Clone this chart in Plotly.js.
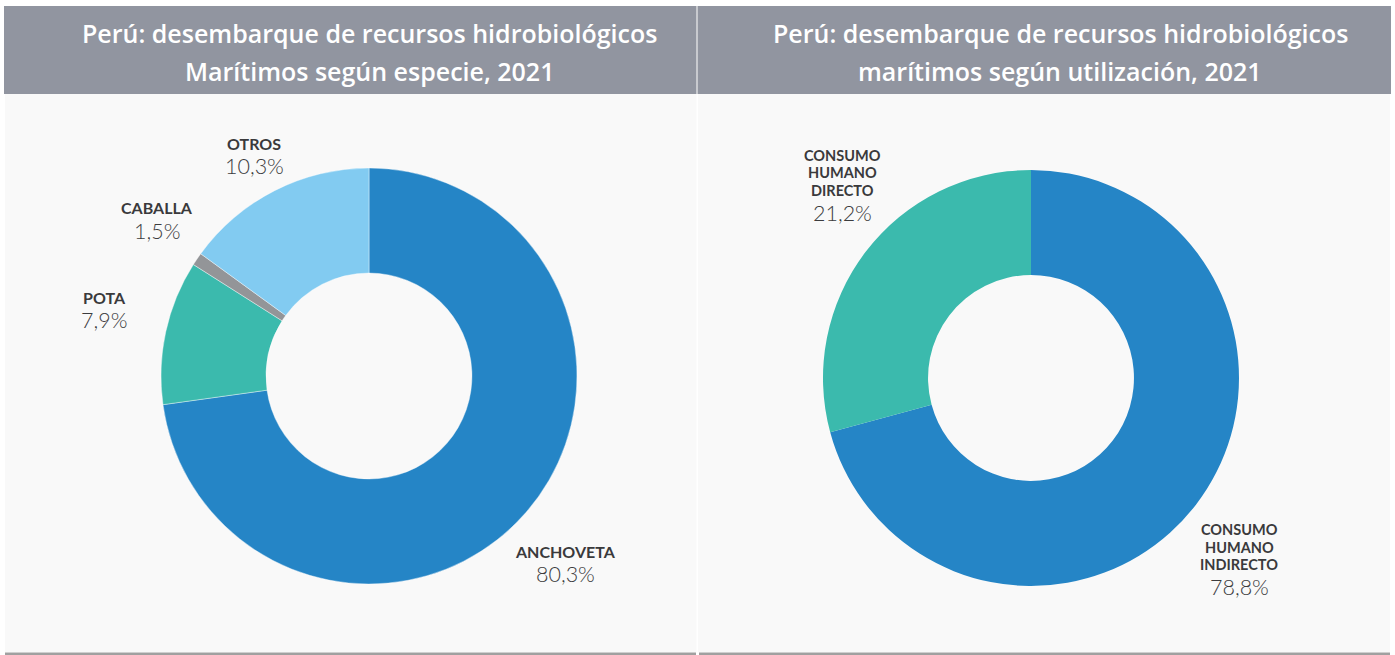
<!DOCTYPE html>
<html>
<head>
<meta charset="utf-8">
<script src="https://cdn.plot.ly/plotly-3.0.1.min.js"></script>
<style>
html,body{margin:0;padding:0;background:#ffffff;}
#chart{width:1395px;height:655px;}
</style>
</head>
<body>
<div id="chart"></div>
<script>
// ---- Data (slice sizes read from the drawn arcs; labels as printed) ----
const especieLabels = ["ANCHOVETA", "POTA", "CABALLA", "OTROS"];
const especieValues = [72.8, 11.2, 1.0, 15.0];
const especiePctText = ["80,3%", "7,9%", "1,5%", "10,3%"];
const especieColors = ["#2585c6", "#3bbaad", "#939598", "#82cbf1"];

const usoLabels = ["CONSUMO HUMANO INDIRECTO", "CONSUMO HUMANO DIRECTO"];
const usoValues = [70.8, 29.2];
const usoPctText = ["78,8%", "21,2%"];
const usoColors = ["#2585c6", "#3bbaad"];

const titleLines = [
  ["Perú: desembarque de recursos hidrobiológicos", "Marítimos según especie, 2021"],
  ["Perú: desembarque de recursos hidrobiológicos", "marítimos según utilización, 2021"]
];

// ---- Layout helpers (pixel -> paper) ----
const W = 1395, H = 655;
const px = x => x / W;
const py = y => 1 - y / H;

function domainFor(cx, cy, r) {
  return { x: [px(cx - r), px(cx + r)], y: [py(cy + r), py(cy - r)] };
}

const traces = [
  {
    type: "pie", labels: especieLabels, values: especieValues,
    marker: { colors: especieColors, line: { color: "#ffffff", width: 0.4 } },
    hole: 0.495, sort: false, direction: "clockwise", rotation: 0,
    textinfo: "none", hoverinfo: "label+percent", showlegend: false,
    domain: domainFor(369, 376, 208)
  },
  {
    type: "pie", labels: usoLabels, values: usoValues,
    marker: { colors: usoColors, line: { color: "#ffffff", width: 0 } },
    hole: 0.495, sort: false, direction: "clockwise", rotation: 0,
    textinfo: "none", hoverinfo: "label+percent", showlegend: false,
    domain: domainFor(1031, 378, 208)
  }
];

const annotations = [];
function addText(text, x, y, font) {
  annotations.push({ xref: "paper", yref: "paper", x: px(x), y: py(y), text: text,
    showarrow: false, xanchor: "center", yanchor: "middle", font: font });
}

const labelFont = { family: "Lato, Open Sans, sans-serif", size: 16, color: "#3a3a3c", weight: 700 };
const usoLabelFont = { family: "Lato, Open Sans, sans-serif", size: 14.5, color: "#3a3a3c", weight: 700 };
const pctFont = { family: "Lato, Open Sans, sans-serif", size: 21.5, color: "#3c3c3e", weight: 300 };

// positions (pixel centers): [x, yLabel, yPct]
const especiePos = [[565, 551, 574], [104, 297, 320], [157, 208, 231], [254, 143, 166]];
especieLabels.forEach((l, i) => {
  const p = especiePos[i];
  addText(l, p[0], p[1], labelFont);
  addText(especiePctText[i], p[0], p[2], pctFont);
});

const usoLines = [["CONSUMO", "HUMANO", "INDIRECTO"], ["CONSUMO", "HUMANO", "DIRECTO"]];
const usoPos = [[1239, [529.5, 547, 564.5], 587], [842, [155.5, 173, 190.5], 213]];
usoLines.forEach((lines, i) => {
  const p = usoPos[i];
  lines.forEach((ln, j) => addText(ln, p[0], p[1][j], usoLabelFont));
  addText(usoPctText[i], p[0], p[2], pctFont);
});

const titleFont = { family: "Open Sans, sans-serif", size: 25, color: "#ffffff", weight: 600 };
[[369, titleLines[0]], [1060, titleLines[1]]].forEach(([cx, lines]) => {
  addText(lines[0], cx, 33, titleFont);
  addText(lines[1], cx, 71, titleFont);
});

const shapes = [
  // panel backgrounds
  { type: "rect", xref: "paper", yref: "paper", x0: px(5), x1: px(696.5), y0: py(652), y1: py(94), fillcolor: "#f9f9f9", line: { width: 0 }, layer: "below" },
  { type: "rect", xref: "paper", yref: "paper", x0: px(698), x1: px(1390), y0: py(652), y1: py(94), fillcolor: "#f9f9f9", line: { width: 0 }, layer: "below" },
  // headers
  { type: "rect", xref: "paper", yref: "paper", x0: px(4), x1: px(696.5), y0: py(94), y1: py(6), fillcolor: "#9195a0", line: { width: 0 }, layer: "below" },
  { type: "rect", xref: "paper", yref: "paper", x0: px(697.5), x1: px(1391), y0: py(94), y1: py(6), fillcolor: "#9195a0", line: { width: 0 }, layer: "below" },
  // bottom rules
  { type: "rect", xref: "paper", yref: "paper", x0: px(5), x1: px(696), y0: py(655), y1: py(652.5), fillcolor: "#a0a0a0", line: { width: 0 }, layer: "below" },
  { type: "rect", xref: "paper", yref: "paper", x0: px(699), x1: px(1390), y0: py(655), y1: py(652.5), fillcolor: "#a0a0a0", line: { width: 0 }, layer: "below" }
];

const layout = {
  width: W, height: H,
  margin: { l: 0, r: 0, t: 0, b: 0 },
  paper_bgcolor: "#ffffff",
  showlegend: false,
  annotations: annotations,
  shapes: shapes
};

Plotly.newPlot("chart", traces, layout, { displayModeBar: false, staticPlot: true });
</script>
</body>
</html>
